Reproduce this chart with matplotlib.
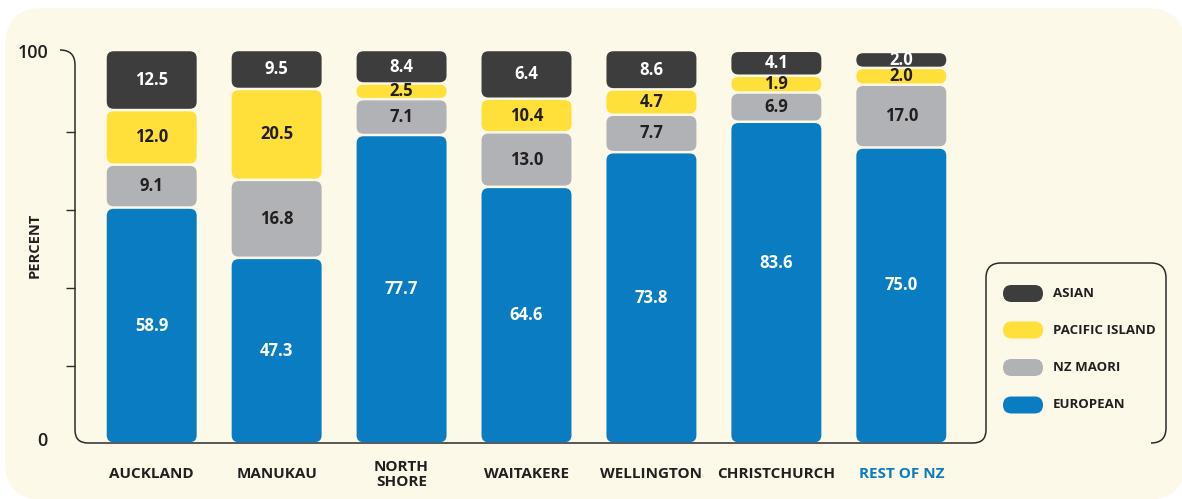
import matplotlib.pyplot as plt
from matplotlib.patches import FancyBboxPatch, PathPatch
from matplotlib.path import Path
from matplotlib.transforms import blended_transform_factory

plt.rcParams["font.family"] = ["Open Sans", "DejaVu Sans"]

regions = ["AUCKLAND", "MANUKAU", "NORTH\nSHORE", "WAITAKERE",
           "WELLINGTON", "CHRISTCHURCH", "REST OF NZ"]
series = ["EUROPEAN", "NZ MAORI", "PACIFIC ISLAND", "ASIAN"]

# printed values
european = [58.9, 47.3, 77.7, 64.6, 73.8, 83.6, 75.0]
maori = [9.1, 16.8, 7.1, 13.0, 7.7, 6.9, 17.0]
pacific = [12.0, 20.5, 2.5, 10.4, 4.7, 1.9, 2.0]
asian = [12.5, 9.5, 8.4, 6.4, 8.6, 4.1, 2.0]

# segment heights as drawn (they don't stack like the printed numbers)
european_h = [60.5, 47.6, 79.1, 65.8, 74.7, 82.5, 75.9]
maori_h = [11.0, 20.0, 9.2, 14.0, 9.6, 7.5, 16.1]
pacific_h = [14.0, 23.3, 4.0, 8.6, 6.5, 4.3, 4.3]
asian_h = [15.4, 10.0, 8.6, 12.5, 10.1, 6.4, 4.1]

values = [european, maori, pacific, asian]
heights = [european_h, maori_h, pacific_h, asian_h]
colors = ["#0a7cc1", "#b1b2b5", "#ffe03a", "#3d3d3d"]
text_colors = ["white", "#231f20", "#231f20", "white"]
dark = "#231f20"
cream = "#fdf9e9"

# the european labels of the last two bars sit above the middle of the segment
label_shift_px = {5: 20, 6: 10}

W, H = 1182, 499
fig = plt.figure(figsize=(W / 100, H / 100), dpi=100)
fig.patch.set_facecolor("white")

# background layer in pixel coordinates
bg = fig.add_axes([0, 0, 1, 1])
bg.set_xlim(0, W)
bg.set_ylim(H, 0)
bg.axis("off")
bg.add_patch(FancyBboxPatch((5, 8), 1180, 492, boxstyle="round,pad=0,rounding_size=38",
                            fc=cream, ec="none"))

# frame: left axis, bottom axis and legend box as one line
verts = [(60, 50), (75, 50), (75, 65), (75, 430), (75, 443), (88, 443),
         (973, 443), (986, 443), (986, 430), (986, 278), (986, 263), (1001, 263),
         (1151, 263), (1166, 263), (1166, 278), (1166, 428), (1166, 443), (1151, 443)]
codes = [Path.MOVETO, Path.CURVE3, Path.CURVE3, Path.LINETO, Path.CURVE3, Path.CURVE3,
         Path.LINETO, Path.CURVE3, Path.CURVE3, Path.LINETO, Path.CURVE3, Path.CURVE3,
         Path.LINETO, Path.CURVE3, Path.CURVE3, Path.LINETO, Path.CURVE3, Path.CURVE3]
bg.add_patch(PathPatch(Path(verts, codes), fc="none", ec="#2b2b2b", lw=1.1))

# main axes
x0, x1 = 75, 986
ax = fig.add_axes([x0 / W, (H - 443.5) / H, (x1 - x0) / W, 390 / H])
ax.patch.set_alpha(0)
for s in ax.spines.values():
    s.set_visible(False)
ax.set_xlim(-0.614, 6.678)
ax.set_ylim(0, 100)
ax.set_xticks([])
ax.set_yticks([20, 40, 60, 80])
ax.tick_params(axis="y", length=6.5, width=1.0, color="#2b2b2b", labelleft=False)

kx = (x1 - x0) / (6.678 + 0.614)  # px per x unit
ky = 390 / 100                    # px per percent
bar_w = 0.72
gap = 0.32

for j in range(len(series)):
    for i in range(len(regions)):
        bottom = sum(heights[k][i] for k in range(j))
        h = heights[j][i]
        r_px = min(7, (h - 2 * gap) * ky / 2)
        ax.add_patch(FancyBboxPatch((i - bar_w / 2, bottom + gap), bar_w, h - 2 * gap,
                                    boxstyle=f"round,pad=0,rounding_size={r_px / kx}",
                                    mutation_aspect=kx / ky, fc=colors[j], ec="none",
                                    clip_on=False))
        ty = bottom + h / 2
        if j == 0:
            ty += label_shift_px.get(i, 0) / ky
        ax.text(i, ty, f"{values[j][i]:.1f}", ha="center", va="center",
                fontsize=12, fontweight="bold", color=text_colors[j], clip_on=False)

# category labels
tr = blended_transform_factory(ax.transData, bg.transData)
for i, name in enumerate(regions):
    ax.text(i, 474.5, name, transform=tr, ha="center", va="center", fontsize=11,
            fontweight="bold", linespacing=1.15,
            color="#0a7cc1" if name == "REST OF NZ" else dark)

# y labels
tr_y = blended_transform_factory(bg.transData, ax.transData)
ax.text(48, 100, "100", transform=tr_y, ha="right", va="center", fontsize=13,
        fontweight="semibold", color=dark)
ax.text(48, 0.6, "0", transform=tr_y, ha="right", va="center", fontsize=13,
        fontweight="semibold", color=dark)
bg.text(35, 245, "PERCENT", rotation=90, ha="center", va="center", fontsize=10.5,
        fontweight="bold", color=dark)

# legend
legend_y = [405, 367.5, 330, 293.5]
for j, name in enumerate(series):
    y = legend_y[j]
    bg.add_patch(FancyBboxPatch((1003, y - 8.5), 40, 17,
                                boxstyle="round,pad=0,rounding_size=8.5",
                                fc=colors[j], ec="none"))
    bg.text(1053, y, name, ha="left", va="center", fontsize=9.5,
            fontweight="bold", color=dark)

fig.savefig("out.png", dpi=100, facecolor=fig.get_facecolor())
